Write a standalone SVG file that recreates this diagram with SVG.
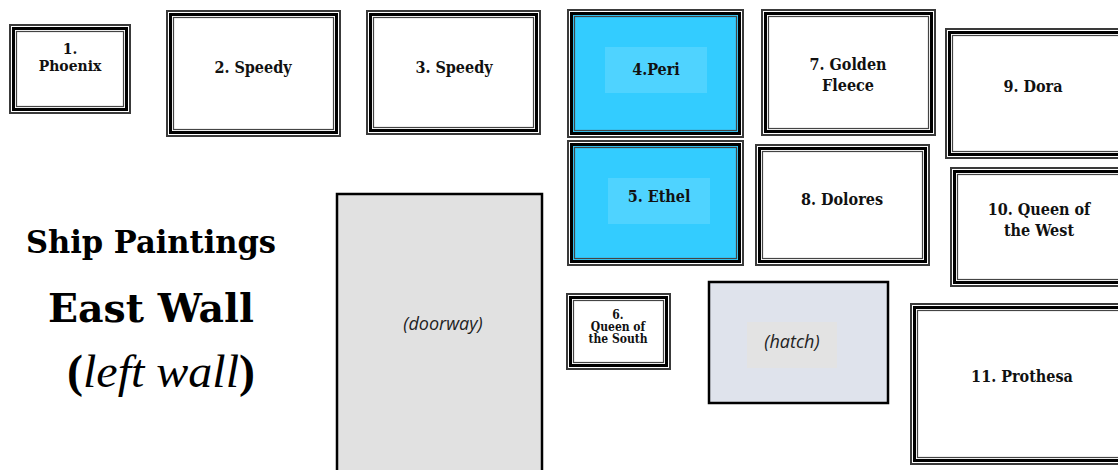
<svg xmlns="http://www.w3.org/2000/svg" width="1118" height="470" viewBox="0 0 1118 470">
<style>
.o{fill:#fff;stroke:#3a3a3a;stroke-width:2}
.m{fill:none;stroke:#000;stroke-width:3}
.i{fill:none;stroke:#444;stroke-width:1.2}
.blue{fill:#33ccff}
.lb{fill:#4fd3ff}
.t{font-family:"DejaVu Serif Condensed","DejaVu Serif",serif;font-stretch:condensed;font-weight:bold;font-size:16px;fill:#111;text-anchor:middle}
.ts{font-family:"DejaVu Serif Condensed","DejaVu Serif",serif;font-stretch:condensed;font-weight:bold;font-size:15.5px;fill:#111;text-anchor:middle}
.tx{font-family:"DejaVu Serif Condensed","DejaVu Serif",serif;font-stretch:condensed;font-weight:bold;font-size:12px;fill:#111;text-anchor:middle}
.it{font-family:"Open Sans",sans-serif;font-style:italic;font-size:18px;fill:#222;text-anchor:middle}
</style>
<rect width="1118" height="470" fill="#fff"/>
<g id="title">
<text x="26" y="253" font-family="'DejaVu Serif',serif" font-weight="bold" font-size="31" textLength="250" lengthAdjust="spacingAndGlyphs">Ship Paintings</text>
<text x="48" y="322" font-family="'DejaVu Serif',serif" font-weight="bold" font-size="40" textLength="206" lengthAdjust="spacingAndGlyphs">East Wall</text>
<text x="67" y="387" font-family="'Liberation Serif',serif" font-weight="bold" font-size="46" textLength="188" lengthAdjust="spacingAndGlyphs">(<tspan font-style="italic" font-weight="normal">left wall</tspan>)</text>
</g>
<g id="doorway">
<rect x="337" y="194" width="205" height="290" fill="#e1e1e1" stroke="#000" stroke-width="2.5"/>
<text class="it" x="443" y="330">(doorway)</text>
</g>
<g id="hatch">
<rect x="709" y="282" width="179" height="121" fill="#dfe3ec" stroke="#000" stroke-width="2.5"/>
<rect x="747" y="322" width="90" height="46" fill="#e3e3e3"/>
<text class="it" x="792" y="348">(hatch)</text>
</g>
<g id="p1">
<rect class="o" x="10" y="25" width="120" height="88"/>
<rect class="m" x="13.5" y="28.5" width="113" height="81"/>
<rect class="i" x="16.5" y="31.5" width="107" height="75"/>
<text class="ts" x="70" y="54">1.</text>
<text class="ts" x="70" y="71">Phoenix</text>
</g>
<g id="p2">
<rect class="o" x="167" y="11" width="173" height="125"/>
<rect class="m" x="170.5" y="14.5" width="166" height="118"/>
<rect class="i" x="173.5" y="17.5" width="160" height="112"/>
<text class="t" x="253" y="73">2. Speedy</text>
</g>
<g id="p3">
<rect class="o" x="367" y="11" width="173" height="123"/>
<rect class="m" x="370.5" y="14.5" width="166" height="116"/>
<rect class="i" x="373.5" y="17.5" width="160" height="110"/>
<text class="t" x="454" y="73">3. Speedy</text>
</g>
<g id="p4">
<rect class="o" x="568" y="10" width="175" height="127"/>
<rect class="blue" x="571.5" y="13.5" width="168" height="120"/>
<rect class="m" x="571.5" y="13.5" width="168" height="120"/>
<rect class="i" x="574.5" y="16.5" width="162" height="114"/>
<rect class="lb" x="605" y="47" width="102" height="46"/>
<text class="t" x="656" y="75">4.Peri</text>
</g>
<g id="p5">
<rect class="o" x="568" y="141" width="175" height="124"/>
<rect class="blue" x="571.5" y="144.5" width="168" height="117"/>
<rect class="m" x="571.5" y="144.5" width="168" height="117"/>
<rect class="i" x="574.5" y="147.5" width="162" height="111"/>
<rect class="lb" x="608" y="178" width="102" height="46"/>
<text class="t" x="659" y="202">5. Ethel</text>
</g>
<g id="p6">
<rect class="o" x="567" y="294" width="103" height="75"/>
<rect class="m" x="570.5" y="297.5" width="96" height="68"/>
<rect class="i" x="573.5" y="300.5" width="90" height="62"/>
<text class="tx" x="618" y="319">6.</text>
<text class="tx" x="618" y="331">Queen of</text>
<text class="tx" x="618" y="343">the South</text>
</g>
<g id="p7">
<rect class="o" x="762" y="10" width="173" height="125"/>
<rect class="m" x="765.5" y="13.5" width="166" height="118"/>
<rect class="i" x="768.5" y="16.5" width="160" height="112"/>
<text class="t" x="848" y="70">7. Golden</text>
<text class="t" x="848" y="91">Fleece</text>
</g>
<g id="p8">
<rect class="o" x="756" y="145" width="173" height="120"/>
<rect class="m" x="759.5" y="148.5" width="166" height="113"/>
<rect class="i" x="762.5" y="151.5" width="160" height="107"/>
<text class="t" x="842" y="205">8. Dolores</text>
</g>
<g id="p9">
<rect class="o" x="946" y="29" width="190" height="129"/>
<rect class="m" x="949.5" y="32.5" width="183" height="122"/>
<rect class="i" x="952.5" y="35.5" width="177" height="116"/>
<text class="t" x="1033" y="92">9. Dora</text>
</g>
<g id="p10">
<rect class="o" x="951" y="168" width="190" height="118"/>
<rect class="m" x="954.5" y="171.5" width="183" height="111"/>
<rect class="i" x="957.5" y="174.5" width="177" height="105"/>
<text class="t" x="1039" y="215">10. Queen of</text>
<text class="t" x="1039" y="236">the West</text>
</g>
<g id="p11">
<rect class="o" x="911" y="304" width="230" height="160"/>
<rect class="m" x="914.5" y="307.5" width="223" height="153"/>
<rect class="i" x="917.5" y="310.5" width="217" height="147"/>
<text class="t" x="1022" y="382">11. Prothesa</text>
</g>
<g id="connectors"/>
</svg>
